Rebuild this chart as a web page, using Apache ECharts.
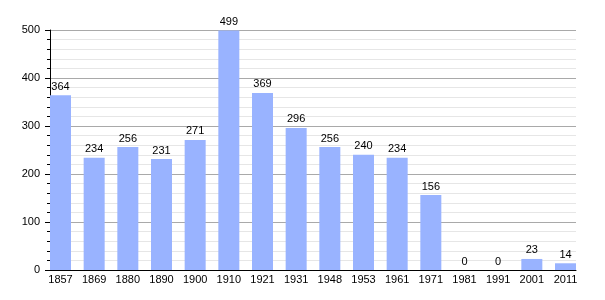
<!DOCTYPE html>
<html>
<head>
<meta charset="utf-8">
<script src="https://cdn.jsdelivr.net/npm/echarts@6/dist/echarts.min.js"></script>
<style>
html,body{margin:0;padding:0;background:#fff;}
#c{width:605px;height:300px;}
</style>
</head>
<body>
<div id="c"></div>
<script>
const years = ['1857','1869','1880','1890','1900','1910','1921','1931','1948','1953','1961','1971','1981','1991','2001','2011'];
const population = [364,234,256,231,271,499,369,296,256,240,234,156,0,0,23,14];
const yTicks = [0,100,200,300,400,500];

const font = 'Liberation Sans, Arial, sans-serif';
const chart = echarts.init(document.getElementById('c'), null, {renderer:'canvas'});
chart.setOption({
  animation:false,
  backgroundColor:'#fff',
  grid:[
    {left:50, right:29, top:30, bottom:30},
    {left:60.5, right:39.5, top:30, bottom:30}
  ],
  xAxis:[
    {gridIndex:0, type:'value', min:0, max:1, axisLine:{show:true, onZero:false, lineStyle:{color:'#000', width:1}},
     axisTick:{show:false}, axisLabel:{show:false}, splitLine:{show:false}},
    {gridIndex:1, type:'category', data:years, boundaryGap:false,
     axisLine:{show:false}, axisTick:{show:false}, splitLine:{show:false},
     axisLabel:{interval:0, color:'#000', fontSize:11, fontFamily:font, margin:4}}
  ],
  yAxis:[
    {gridIndex:0, type:'value', min:yTicks[0], max:yTicks[yTicks.length-1], interval:100,
     axisLine:{show:true, lineStyle:{color:'#000', width:1}},
     axisTick:{show:true, length:5, lineStyle:{color:'#000'}},
     minorTick:{show:true, splitNumber:5, length:3, lineStyle:{color:'#000'}},
     splitLine:{show:true, lineStyle:{color:'#a9a9a9', width:1}},
     minorSplitLine:{show:true, lineStyle:{color:'#e6e6e6', width:1}},
     axisLabel:{color:'#000', fontSize:11, fontFamily:font, margin:10}},
    {gridIndex:1, type:'value', min:0, max:500, show:false, splitLine:{show:false}}
  ],
  series:[{
    type:'bar', xAxisIndex:1, yAxisIndex:1, data:population, barWidth:21, clip:false,
    itemStyle:{color:'#99b3ff'},
    label:{show:true, position:'top', distance:3, color:'#000', fontSize:11, fontFamily:font}
  }]
});
</script>
</body>
</html>
